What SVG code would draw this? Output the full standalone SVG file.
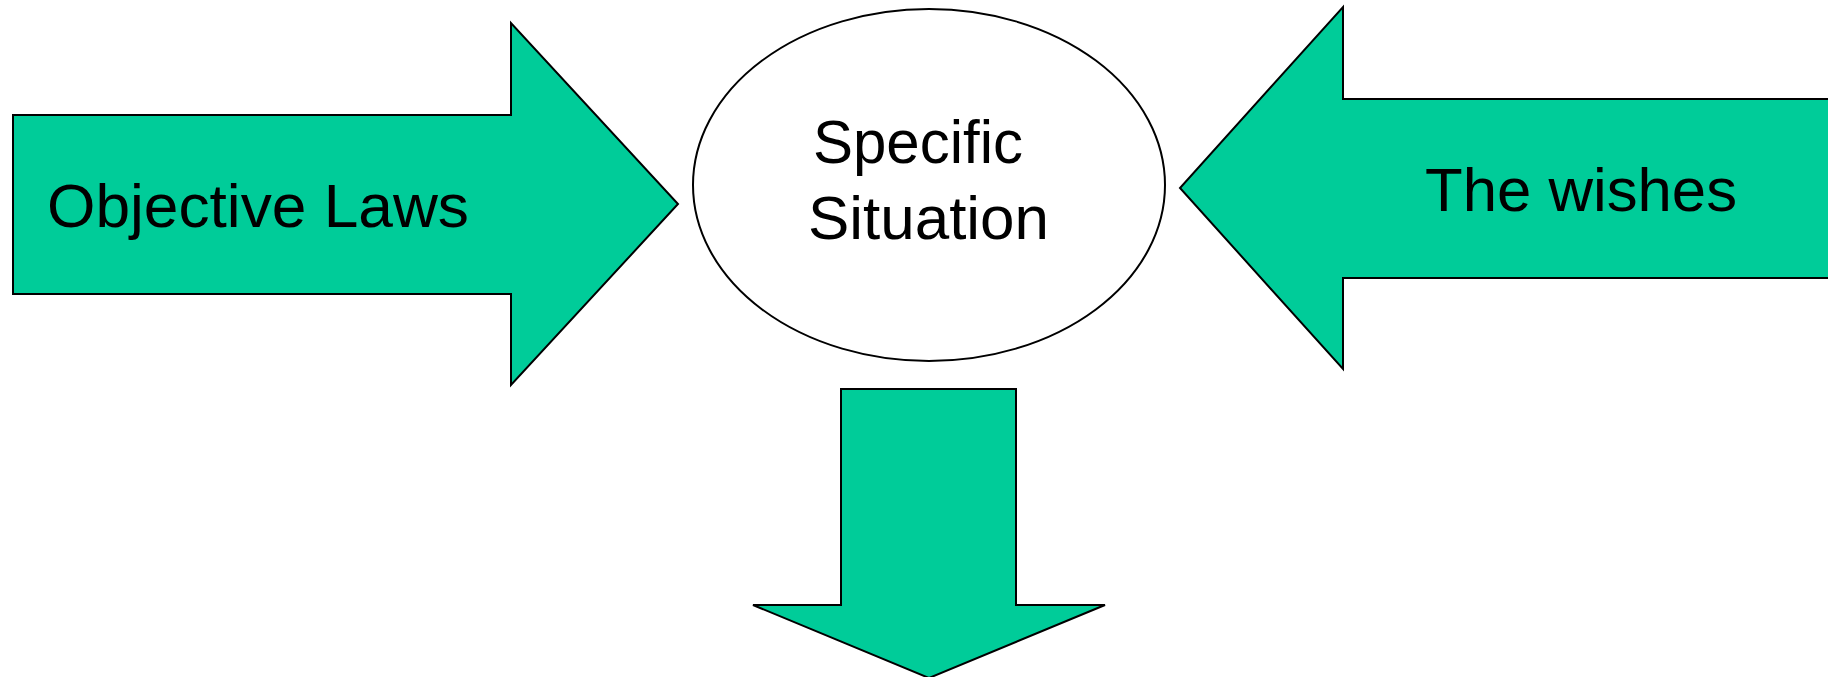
<svg xmlns="http://www.w3.org/2000/svg" width="1828" height="677" viewBox="0 0 1828 677">
<style>
.arrow{fill:#00CC99;stroke:#000;stroke-width:2;stroke-linejoin:miter}
.lbl{font-family:"Liberation Sans",Arial,sans-serif;font-size:62px;fill:#000}
</style>
<rect width="1828" height="677" fill="#fff"/>
<g id="connectors">
<polygon id="arrow-down" class="arrow" points="841,389 1016,389 1016,605 1105,605 929,678 753,605 841,605"/>
</g>
<g id="objective-laws">
<polygon class="arrow" points="13,115 511,115 511,23 678,204 511,385 511,294 13,294"/>
<text class="lbl" x="47" y="227" textLength="422" lengthAdjust="spacingAndGlyphs">Objective Laws</text>
</g>
<g id="specific-situation">
<ellipse cx="929" cy="185" rx="236" ry="176" fill="#fff" stroke="#000" stroke-width="2"/>
<text class="lbl" x="813" y="163" textLength="210" lengthAdjust="spacingAndGlyphs">Specific</text>
<text class="lbl" x="808" y="239" textLength="241" lengthAdjust="spacingAndGlyphs">Situation</text>
</g>
<g id="the-wishes">
<polygon class="arrow" points="1840,99 1343,99 1343,7 1180,188 1343,369 1343,278 1840,278"/>
<text class="lbl" x="1425" y="211" textLength="312" lengthAdjust="spacingAndGlyphs">The wishes</text>
</g>
</svg>
